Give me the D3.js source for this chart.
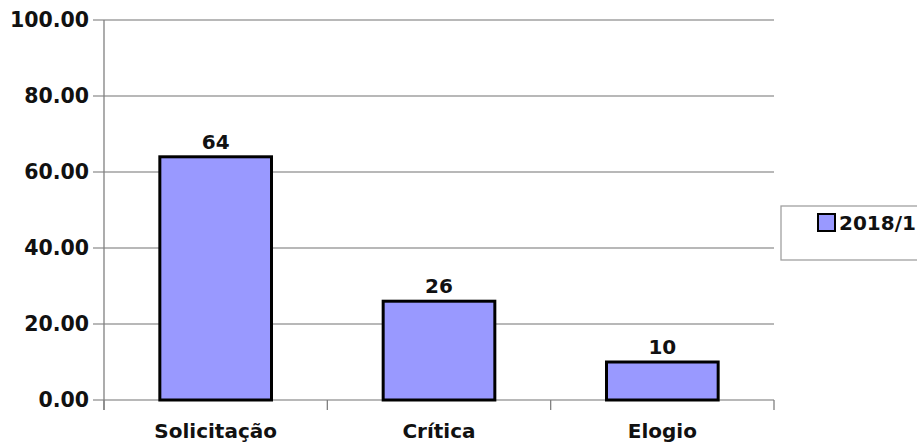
<!DOCTYPE html>
<html>
<head>
<meta charset="utf-8">
<script src="https://cdn.jsdelivr.net/npm/d3@7"></script>
<style>
  body { margin: 0; background: #fff; }
  text { font-family: "DejaVu Sans", Verdana, sans-serif; font-weight: bold; fill: #111; }
</style>
</head>
<body>
<svg id="chart" width="917" height="444"></svg>
<script>
const categories = ["Solicitação", "Crítica", "Elogio"];
const values = [64, 26, 10];
const yTicks = [0, 20, 40, 60, 80, 100];
const seriesName = "2018/1";

const barColor = "#9999ff";

const margin = {top: 20, left: 104, right: 143, bottom: 44},
width = 917 - margin.left - margin.right,
height = 444 - margin.top - margin.bottom;

const svg = d3.select("#chart");
const g = svg.append("g")
  .attr("transform", "translate(" + margin.left + "," + margin.top + ")");

const x = d3.scaleBand()
  .domain(categories)
  .range([0, width])
  .paddingInner(0.5)
  .paddingOuter(0.25);

const y = d3.scaleLinear()
  .domain([0, 100])
  .range([height, 0]);

// gridlines + y labels
g.selectAll(".grid")
  .data(yTicks)
  .join("line")
  .attr("x1", -11).attr("x2", width)
  .attr("y1", d => y(d)).attr("y2", d => y(d))
  .attr("stroke", "#a0a0a0")
  .attr("stroke-width", 1.3);

g.selectAll(".ylab")
  .data(yTicks)
  .join("text")
  .attr("x", -15)
  .attr("y", d => y(d))
  .attr("dy", "0.36em")
  .attr("text-anchor", "end")
  .style("font-size", "20.5px")
  .text(d => d.toFixed(2));

// y axis line
g.append("line")
  .attr("x1", 0).attr("x2", 0)
  .attr("y1", 0).attr("y2", height + 10)
  .attr("stroke", "#808080")
  .attr("stroke-width", 1.3);

// category ticks
const catEdges = d3.range(categories.length + 1).map(i => i * width / categories.length);
g.selectAll(".ctick")
  .data(catEdges)
  .join("line")
  .attr("x1", d => d).attr("x2", d => d)
  .attr("y1", height).attr("y2", height + 10)
  .attr("stroke", "#808080")
  .attr("stroke-width", 1.3);

// bars
g.selectAll(".bar")
  .data(values)
  .join("rect")
  .attr("x", (d, i) => x(categories[i]))
  .attr("y", d => y(d))
  .attr("width", x.bandwidth())
  .attr("height", d => height - y(d))
  .attr("fill", barColor)
  .attr("stroke", "#000")
  .attr("stroke-width", 3);

g.selectAll(".vlab")
  .data(values)
  .join("text")
  .attr("x", (d, i) => x(categories[i]) + x.bandwidth() / 2)
  .attr("y", d => y(d) - 8)
  .attr("text-anchor", "middle")
  .style("font-size", "20px")
  .text(d => d);

g.selectAll(".xlab")
  .data(categories)
  .join("text")
  .attr("x", d => x(d) + x.bandwidth() / 2)
  .attr("y", height + 38)
  .attr("text-anchor", "middle")
  .style("font-size", "20px")
  .text(d => d);

// legend
const leg = svg.append("g").attr("transform", "translate(781,206)");
leg.append("rect")
  .attr("width", 150).attr("height", 54)
  .attr("fill", "#fff")
  .attr("stroke", "#a0a0a0")
  .attr("stroke-width", 1.3);
leg.append("rect")
  .attr("x", 37).attr("y", 8)
  .attr("width", 17).attr("height", 17)
  .attr("fill", barColor)
  .attr("stroke", "#000")
  .attr("stroke-width", 2);
leg.append("text")
  .attr("x", 58).attr("y", 17)
  .attr("dy", "0.36em")
  .style("font-size", "20px")
  .text(seriesName);
</script>
</body>
</html>
